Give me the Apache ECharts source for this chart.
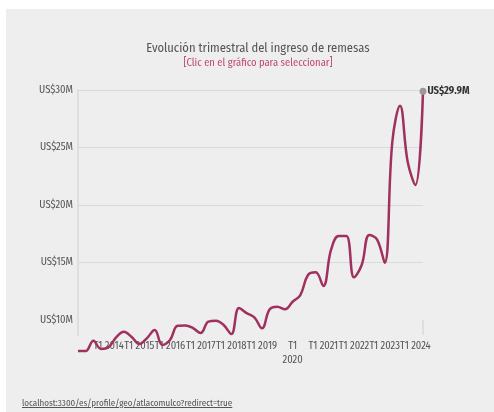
<!DOCTYPE html>
<html>
<head>
<meta charset="utf-8">
<script src="https://cdn.jsdelivr.net/npm/echarts@6/dist/echarts.min.js"></script>
<style>
  html, body { margin: 0; padding: 0; background: #ffffff; width: 494px; height: 412px; overflow: hidden; }
  #panel { position: absolute; left: 6px; top: 9px; right: 0; bottom: 0; background: #eeeeee; }
  #chart { position: absolute; left: 0; top: 0; width: 494px; height: 412px; }
  #foot { position: absolute; left: 22px; top: 398px; font: 9px 'Fira Sans Condensed','Liberation Sans Narrow','DejaVu Sans Condensed',sans-serif; color: #555; text-decoration: underline; }
</style>
</head>
<body>
<div id="panel"></div>
<div id="chart"></div>
<div id="foot">localhost:3300/es/profile/geo/atlacomulco?redirect=true</div>
<script>
const FONT = "'Fira Sans Condensed','Liberation Sans Narrow','DejaVu Sans Condensed',sans-serif";

const quarters = [
  'T1 2013','T2 2013','T3 2013','T4 2013',
  'T1 2014','T2 2014','T3 2014','T4 2014',
  'T1 2015','T2 2015','T3 2015','T4 2015',
  'T1 2016','T2 2016','T3 2016','T4 2016',
  'T1 2017','T2 2017','T3 2017','T4 2017',
  'T1 2018','T2 2018','T3 2018','T4 2018',
  'T1 2019','T2 2019','T3 2019','T4 2019',
  'T1 2020','T2 2020','T3 2020','T4 2020',
  'T1 2021','T2 2021','T3 2021','T4 2021',
  'T1 2022','T2 2022','T3 2022','T4 2022',
  'T1 2023','T2 2023','T3 2023','T4 2023',
  'T1 2024','T2 2024'
];

// Remesas (millones de US$)
const remesas = [
  7.30, 7.30, 8.20, 7.48,
  7.65, 8.52, 8.98, 8.52,
  7.91, 8.43, 9.13, 7.83,
  8.26, 9.50, 9.52, 9.30,
  8.87, 9.85, 9.94, 9.57,
  8.78, 11.04, 10.60, 10.23,
  9.28, 10.93, 11.16, 10.93,
  11.59, 12.17, 13.91, 14.15,
  12.96, 16.09, 17.30, 17.30,
  13.71, 14.78, 17.39, 17.02,
  14.98, 25.50, 28.63, 23.77,
  21.74, 29.90
];

const yTicks = [5, 10, 15, 20, 25, 30];
const shownYearLabels = ['T1 2014','T1 2015','T1 2016','T1 2017','T1 2018','T1 2019','T1 2020','T1 2021','T1 2022','T1 2023','T1 2024'];

const lastIdx = remesas.length - 1;
const seriesData = remesas.map((v, i) => i === lastIdx ? {
  value: v,
  itemStyle: { color: '#9a9a9a' },
  label: {
    show: true, position: 'right', distance: 1,
    formatter: 'US$' + v.toFixed(1) + 'M',
    fontFamily: FONT, fontSize: 10.5, fontWeight: 'bold', color: '#333'
  }
} : v);

const chart = echarts.init(document.getElementById('chart'), null, { renderer: 'canvas' });
chart.setOption({
  animation: false,
  backgroundColor: 'transparent',
  title: {
    text: 'Evolución trimestral del ingreso de remesas',
    subtext: '[Clic en el gráfico para seleccionar]',
    left: 253, top: 37, textAlign: 'center',
    itemGap: 3,
    textStyle: { fontFamily: FONT, fontSize: 12.5, fontWeight: 'normal', color: '#555' },
    subtextStyle: { fontFamily: FONT, fontSize: 10.5, color: '#c0486c' }
  },
  grid: [
    { left: 78, right: 71, top: 90, bottom: 34.5, containLabel: false },
    { left: 78, right: 71, top: 90, bottom: 77, containLabel: false }
  ],
  xAxis: [{
    type: 'category',
    gridIndex: 0,
    data: quarters,
    boundaryGap: false,
    show: false
  }, {
    type: 'category',
    gridIndex: 1,
    data: quarters,
    boundaryGap: false,
    axisLine: { show: false, onZero: false },
    axisTick: {
      show: true, inside: true, length: 15,
      interval: (i) => i === lastIdx,
      lineStyle: { color: '#d8d8d8', width: 1.5 }
    },
    axisLabel: {
      interval: (i, v) => shownYearLabels.indexOf(v) >= 0,
      formatter: (v) => v === 'T1 2020' ? 'T1\n2020' : v,
      margin: 4,
      fontFamily: FONT, fontSize: 10.5, color: '#555', lineHeight: 14
    },
    splitLine: { show: false }
  }],
  yAxis: [{
    type: 'value',
    gridIndex: 0,
    min: yTicks[0], max: yTicks[yTicks.length - 1], interval: 5,
    axisLine: { show: false },
    axisTick: { show: false },
    axisLabel: {
      showMinLabel: false,
      formatter: (v) => v === yTicks[0] ? '' : 'US$' + v + 'M',
      margin: 5,
      fontFamily: FONT, fontSize: 10.5, color: '#555'
    },
    splitLine: {
      show: true, showMinLine: false,
      lineStyle: { color: ['rgba(0,0,0,0)', '#d9d9d9', '#d9d9d9', '#d9d9d9', '#d9d9d9', '#d9d9d9'], width: 1 }
    }
  }, {
    type: 'value',
    gridIndex: 1,
    position: 'left',
    axisLine: { show: true, onZero: false, lineStyle: { color: '#d8d8d8', width: 1.5 } },
    axisTick: { show: false },
    axisLabel: { show: false },
    splitLine: { show: false }
  }],
  series: [{
    type: 'line',
    xAxisIndex: 0,
    yAxisIndex: 0,
    data: seriesData,
    smooth: 0.4,
    symbol: 'circle',
    symbolSize: (val, params) => params.dataIndex === lastIdx ? 7 : 0,
    showSymbol: true,
    showAllSymbol: true,
    lineStyle: { color: '#a0305e', width: 2.5 },
    itemStyle: { color: '#a0305e' },
    clip: false,
    z: 3
  }]
});
</script>
</body>
</html>
